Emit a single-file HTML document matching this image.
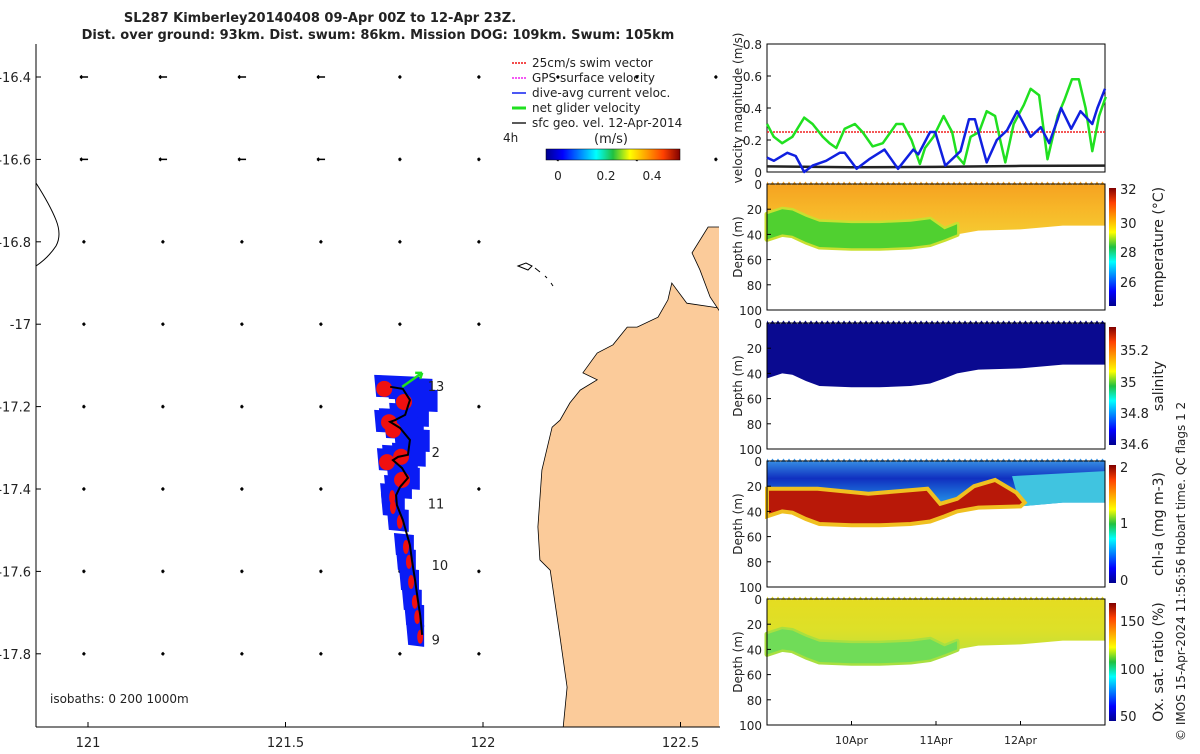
<!DOCTYPE html>
<html><head><meta charset="utf-8">
<style>
body{margin:0;background:#fff;font-family:"DejaVu Sans","Liberation Sans",sans-serif;}
svg text{font-family:"DejaVu Sans","Liberation Sans",sans-serif;fill:#222;}
</style></head>
<body>
<svg id="fig" width="1200" height="750" viewBox="0 0 1200 750" xmlns="http://www.w3.org/2000/svg">
<defs>
<linearGradient id="jetV" x1="0" y1="1" x2="0" y2="0">
<stop offset="0" stop-color="#00008f"/><stop offset="0.125" stop-color="#0000ff"/><stop offset="0.375" stop-color="#00ffff"/><stop offset="0.5" stop-color="#20c040"/><stop offset="0.625" stop-color="#ffff00"/><stop offset="0.875" stop-color="#ff4000"/><stop offset="1" stop-color="#800000"/></linearGradient>
<linearGradient id="jetH" x1="0" y1="0" x2="1" y2="0">
<stop offset="0" stop-color="#00008f"/><stop offset="0.125" stop-color="#0000ff"/><stop offset="0.375" stop-color="#00ffff"/><stop offset="0.5" stop-color="#20c040"/><stop offset="0.625" stop-color="#ffff00"/><stop offset="0.875" stop-color="#ff4000"/><stop offset="1" stop-color="#800000"/></linearGradient>
<linearGradient id="tempG" x1="0" y1="0" x2="0" y2="1">
<stop offset="0" stop-color="#f5a020"/><stop offset="0.4" stop-color="#f7b628"/><stop offset="0.75" stop-color="#f5c830"/><stop offset="1" stop-color="#e8d838"/></linearGradient>
<linearGradient id="oxyG" x1="0" y1="0" x2="0" y2="1">
<stop offset="0" stop-color="#e6dc20"/><stop offset="0.5" stop-color="#dde028"/><stop offset="1" stop-color="#b8e040"/></linearGradient>
<linearGradient id="chlG" x1="0" y1="0" x2="0" y2="1">
<stop offset="0" stop-color="#3a9ae8"/><stop offset="0.3" stop-color="#1030c0"/><stop offset="0.6" stop-color="#2080e0"/><stop offset="1" stop-color="#40c8e0"/></linearGradient>
</defs>
<g id="map"></g>
<g id="right"></g>
</svg>
<script>
const NS="http://www.w3.org/2000/svg";
function mk(parent,tag,attrs,txt){const e=document.createElementNS(NS,tag);for(const k in attrs)e.setAttribute(k,attrs[k]);if(txt!==undefined)e.textContent=txt;parent.appendChild(e);return e;}

// ---------- data ----------
const velDays=[0,0.08,0.18,0.3,0.44,0.54,0.66,0.74,0.82,0.92,1.04,1.13,1.25,1.37,1.53,1.61,1.71,1.81,1.87,1.97,2.09,2.19,2.25,2.33,2.41,2.51,2.60,2.70,2.76,2.82,2.92,3.04,3.12,3.22,3.32,3.44,3.52,3.61,3.69,3.77,3.85,3.93,4.01];
const velGreen=[0.3,0.22,0.18,0.22,0.34,0.3,0.22,0.18,0.15,0.27,0.3,0.25,0.16,0.18,0.3,0.3,0.2,0.05,0.15,0.22,0.35,0.25,0.1,0.05,0.22,0.25,0.38,0.35,0.2,0.06,0.3,0.42,0.52,0.48,0.08,0.35,0.45,0.58,0.58,0.4,0.13,0.35,0.47];
const blueDays=[0,0.08,0.24,0.34,0.44,0.54,0.70,0.86,0.92,1.06,1.21,1.39,1.55,1.73,1.79,1.93,1.99,2.11,2.29,2.39,2.46,2.60,2.72,2.84,2.96,3.12,3.24,3.34,3.44,3.48,3.60,3.71,3.85,3.91,4.0];
const velBlue=[0.09,0.07,0.12,0.1,0.0,0.04,0.07,0.12,0.12,0.02,0.08,0.14,0.02,0.14,0.11,0.25,0.25,0.04,0.13,0.33,0.33,0.06,0.2,0.26,0.38,0.22,0.28,0.18,0.33,0.4,0.27,0.38,0.3,0.4,0.52];
const geoDays=[0,1,2,3,4];
const velGeo=[0.035,0.03,0.032,0.038,0.04];
const swimRef=0.25;
const velTicks=[0,0.2,0.4,0.6,0.8];
const dateTicks=[1,2,3];
const dateLabels=["10Apr","11Apr","12Apr"];
const depthTicks=[0,20,40,60,80,100];
const profDays=[0,0.18,0.3,0.46,0.62,1.0,1.33,1.7,1.93,2.1,2.25,2.5,3.0,3.5,4.0];
const profDepth=[44,40,41,46,50,51,51,50,48,44,40,37,36,33,33];
const chlTopDays=[0,0.6,1.2,1.9,2.05,2.25,2.45,2.7,2.95,3.05];
const chlTopDepth=[22,22,26,22,34,30,20,15,25,33];
const lonTicks=[121,121.5,122,122.5];
const latTicks=[-16.4,-16.6,-16.8,-17,-17.2,-17.4,-17.6,-17.8];
const trackLon=[121.765,121.797,121.815,121.803,121.777,121.765,121.790,121.815,121.810,121.785,121.772,121.795,121.810,121.790,121.780,121.782,121.797,121.815,121.820,121.828,121.835,121.841,121.846];
const trackLat=[-17.152,-17.157,-17.184,-17.220,-17.233,-17.237,-17.252,-17.281,-17.317,-17.322,-17.330,-17.349,-17.373,-17.395,-17.415,-17.439,-17.475,-17.536,-17.572,-17.621,-17.669,-17.706,-17.754];
const curEast=[0.075,0.075,0.07,0.06,0.07,0.07,0.06,0.05,0.045,0.05,0.045,0.035,0.03,0.03,0.02,0.02,0.015,0.01,0.01,0.01,0.01,0.01,0.005];
const swimWest=[0.03,0,0.03,0,0.03,0,0.035,0,0.035,0,0.03,0,0.03,0,0.02,0.02,0.015,0.02,0.015,0.02,0.015,0.015,0.01];
const dayLabels=["13","2","11","10","9"];
const dayLabelLat=[-17.15,-17.31,-17.435,-17.585,-17.765];
const dayLabelLon=[121.86,121.87,121.86,121.87,121.87];
const gridLon=[120.99,121.19,121.39,121.59,121.79,121.99,122.19,122.39,122.59];
const gridLat=[-16.4,-16.6,-16.8,-17.0,-17.2,-17.4,-17.6,-17.8];
const coastLon=[122.600,122.516,122.478,122.468,122.443,122.390,122.365,122.329,122.289,122.253,122.289,122.246,122.220,122.195,122.175,122.149,122.139,122.144,122.170,122.195,122.213,122.203];
const coastLat=[-16.961,-16.949,-16.900,-16.941,-16.983,-17.007,-17.007,-17.050,-17.070,-17.118,-17.135,-17.160,-17.191,-17.233,-17.250,-17.354,-17.492,-17.572,-17.597,-17.759,-17.881,-17.978];
const penLon=[122.600,122.570,122.529,122.549,122.575,122.600];
const penLat=[-16.764,-16.764,-16.827,-16.868,-16.934,-16.970];

// ---------- map ----------
const map=document.getElementById('map');
const mx=lon=>88+(lon-121)*395;
const my=lat=>77+(-16.4-lat)*412;
const AX=36;
let land='';
coastLon.forEach((l,i)=>land+=(i?' L':'M')+mx(l).toFixed(1)+','+my(coastLat[i]).toFixed(1));
land+=' L720,727 Z';
const landEl=mk(map,'path',{d:land,fill:'#fbcb9a',stroke:'#000','stroke-width':0.8});


let pen='';
penLon.forEach((l,i)=>pen+=(i?' L':'M')+mx(l).toFixed(1)+','+my(penLat[i]).toFixed(1));
const penEl=mk(map,'path',{d:pen+' Z',fill:'#fbcb9a',stroke:'#000','stroke-width':0.8});


mk(map,'rect',{x:719,y:220,width:2,height:510,fill:'#fff'});
const isl=mk(map,'path',{d:'M518,266 L526,263 L532,266 L528,270 Z M535,268 L540,272 M545,276 L547,278 M551,283 L553,286',fill:'none',stroke:'#000','stroke-width':1});


const lc=mk(map,'path',{d:'M36,183 Q50,205 56,220 Q62,235 56,246 Q48,258 36,266',fill:'none',stroke:'#000','stroke-width':1});


mk(map,'line',{x1:AX,y1:44,x2:AX,y2:727,stroke:'#000','stroke-width':1});
mk(map,'line',{x1:AX,y1:727,x2:720,y2:727,stroke:'#000','stroke-width':1});
latTicks.forEach(t=>{const y=my(t);
 mk(map,'line',{x1:AX,y1:y,x2:AX+5,y2:y,stroke:'#000'});
 const tx=mk(map,'text',{x:31,y:y+5,'font-size':13,'text-anchor':'end'},(t===-17?'-17':t.toFixed(1)));
 
 });
lonTicks.forEach(t=>{const x=mx(t);
 mk(map,'line',{x1:x,y1:727,x2:x,y2:722,stroke:'#000'});
 const tx=mk(map,'text',{x:x,y:747,'font-size':13,'text-anchor':'middle'},String(t));
 
 });
gridLat.forEach(la=>gridLon.forEach(lo=>{
 const x=mx(lo),y=my(la);
 if(lo>122.15&&la<-16.7)return;
 const len=(lo<121.7&&la>-16.7)?4:1.5;
 const a=mk(map,'path',{d:`M${x-len},${y} L${x+len},${y} M${x-len},${y} l2,-1.5 M${x-len},${y} l2,1.5`,stroke:'#000','stroke-width':1.5});
 
 }));
trackLon.forEach((lo,i)=>{
 const x=mx(lo),y=my(trackLat[i]),w=curEast[i]*395;
 const q=mk(map,'path',{d:`M${x-16},${y-12} L${x+w},${y-10} L${x+w},${y+12} L${x-14},${y+10} Z`,fill:'#0a1cf5',stroke:'none'});
 
 });
trackLon.forEach((lo,i)=>{ if(!swimWest[i])return;
 const x=mx(lo),y=my(trackLat[i]),w=swimWest[i]*395;
 const e=mk(map,'ellipse',{cx:x-w/2,cy:y+2,rx:i<14?8:3,ry:i<14?8:7,fill:'#f01010'});
 
 });
let tp='';trackLon.forEach((lo,i)=>tp+=(i?' L':'M')+mx(lo)+','+my(trackLat[i]));
const tr=mk(map,'path',{d:tp,fill:'none',stroke:'#000','stroke-width':2});


const gx=mx(trackLon[0])+12,gy=my(trackLat[0]);
const gr=mk(map,'path',{d:`M${gx},${gy} L${gx+20},${gy-14} M${gx+20},${gy-14} l-7,0 M${gx+20},${gy-14} l-2,6`,stroke:'#20e020','stroke-width':2.5,fill:'none'});


dayLabels.forEach((d,i)=>{const t=mk(map,'text',{x:mx(dayLabelLon[i]),y:my(dayLabelLat[i])+5,'font-size':13},d);
 
 });
const t1=mk(map,'text',{x:320,y:22,'font-size':13,'font-weight':'bold','text-anchor':'middle'},'SL287 Kimberley20140408 09-Apr 00Z to 12-Apr 23Z.');


const t2=mk(map,'text',{x:378,y:39,'font-size':13,'font-weight':'bold','text-anchor':'middle'},'Dist. over ground: 93km. Dist. swum: 86km. Mission DOG: 109km. Swum: 105km');


const leg=[['#f01010','25cm/s swim vector'],['#f020f0','GPS surface velocity'],['#1020f0','dive-avg current veloc.'],['#20e020','net glider velocity'],['#222','sfc geo. vel. 12-Apr-2014']];
leg.forEach((l,i)=>{const y=62+i*15;
 const g=mk(map,'g',{});
 
 
 mk(g,'line',{x1:512,y1:y+1,x2:526,y2:y+1,stroke:l[0],'stroke-width':i===3?3:1.5,'stroke-dasharray':i<2?'2,1':''});
 mk(g,'text',{x:532,y:y+5,'font-size':12},l[1]);});
mk(map,'text',{x:503,y:142,'font-size':12},'4h');
mk(map,'text',{x:594,y:143,'font-size':13},'(m/s)');
const cb=mk(map,'rect',{x:546,y:149,width:134,height:11,fill:'url(#jetH)',stroke:'#000','stroke-width':0.5});


[[558,'0'],[606,'0.2'],[652,'0.4']].forEach(c=>mk(map,'text',{x:c[0],y:180,'font-size':12,'text-anchor':'middle'},c[1]));
const iso=mk(map,'text',{x:50,y:703,'font-size':12},'isobaths: 0   200  1000m');



// ---------- right panels ----------
const R=document.getElementById('right');
const X0=767,X1=1105;
const dx=d=>X0+d*84.5;
const vy=v=>172-v*160;
const vg=mk(R,'g',{});


mk(vg,'rect',{x:X0,y:44,width:X1-X0,height:128,fill:'#fff',stroke:'#000','stroke-width':1});
velTicks.forEach(t=>{mk(vg,'text',{x:762,y:vy(t)+5,'font-size':12,'text-anchor':'end'},t===0?'0':String(t));mk(vg,'line',{x1:X0,y1:vy(t),x2:X0+4,y2:vy(t),stroke:'#000'});});
const yl=mk(vg,'text',{transform:'translate(742,108) rotate(-90)','font-size':12,'text-anchor':'middle'},'velocity magnitude (m/s)');


const sr=mk(vg,'line',{x1:X0,y1:vy(swimRef),x2:X1,y2:vy(swimRef),stroke:'#f02020','stroke-width':1.5,'stroke-dasharray':'2,1'});


function line(g,xs,ys,col,w){let d='';xs.forEach((x,i)=>d+=(i?' L':'M')+dx(x).toFixed(1)+','+vy(ys[i]).toFixed(1));return mk(g,'path',{d:d,fill:'none',stroke:col,'stroke-width':w,'stroke-linejoin':'round'});}
const lgeo=line(vg,geoDays,velGeo,'#222',2.5);


const lgr=line(vg,velDays,velGreen,'#20e020',2.5);


const lbl=line(vg,blueDays,velBlue,'#1020e0',2.5);



const panels=[
 {top:184,name:'temperature-section',fill:'url(#tempG)',label:'temperature (°C)',ticks:[[189,'32'],[223,'30'],[252,'28'],[282,'26']]},
 {top:323,name:'salinity-section',fill:'#0a0a90',label:'salinity',ticks:[[350,'35.2'],[382,'35'],[413,'34.8'],[444,'34.6']]},
 {top:461,name:'chlorophyll-section',fill:'url(#chlG)',label:'chl-a (mg m-3)',ticks:[[467,'2'],[523,'1'],[580,'0']]},
 {top:599,name:'oxygen-section',fill:'url(#oxyG)',label:'Ox. sat. ratio (%)',ticks:[[621,'150'],[669,'100'],[716,'50']]}];
panels.forEach((P,pi)=>{
 const g=mk(R,'g',{});
 
 
 const dy=d=>P.top+d*1.26;
 let d='M'+X0+','+dy(2);
 for(let x=X0;x<=X1;x+=5.5)d+=` L${x},${dy(-2)} L${x+2.75},${dy(1)}`;
 for(let i=profDays.length-1;i>=0;i--)d+=` L${dx(profDays[i]).toFixed(1)},${dy(profDepth[i]).toFixed(1)}`;
 d+=' Z';
 mk(g,'path',{d:d,fill:P.fill});
 if(pi===0||pi===3){
  let gd='';const n=11;const off=pi===0?20:16;
  for(let i=0;i<n;i++)gd+=(i?' L':'M')+dx(profDays[i]).toFixed(1)+','+dy(Math.max(profDepth[i]-off*(i<9?1:0.4),20)).toFixed(1);
  for(let i=n-1;i>=0;i--)gd+=' L'+dx(profDays[i]).toFixed(1)+','+dy(profDepth[i]).toFixed(1);
  mk(g,'path',{d:gd+' Z',fill:pi===0?'#50d030':'#70dc58',stroke:pi===0?'#c8e030':'#a8e040','stroke-width':5,'stroke-linejoin':'round'});
  mk(g,'path',{d:gd+' Z',fill:pi===0?'#50d030':'#70dc58'});
 }
 if(pi===2){
  let cy='M'+dx(2.9)+','+dy(12);
  cy+=' L'+dx(4)+','+dy(8);
  for(let i=profDays.length-1;i>=0;i--){if(profDays[i]>=2.9)cy+=' L'+dx(profDays[i]).toFixed(1)+','+dy(profDepth[i]).toFixed(1);}
  mk(g,'path',{d:cy+' Z',fill:'#40c4e0'});
  let cd='';
  chlTopDays.forEach((t,i)=>cd+=(i?' L':'M')+dx(t).toFixed(1)+','+dy(chlTopDepth[i]).toFixed(1));
  for(let i=profDays.length-1;i>=0;i--){if(profDays[i]<=3.05)cd+=' L'+dx(profDays[i]).toFixed(1)+','+dy(profDepth[i]).toFixed(1);}
  mk(g,'path',{d:cd+' Z',fill:'#b81808',stroke:'#f0c020','stroke-width':4});
 }
 mk(g,'rect',{x:X0,y:P.top,width:X1-X0,height:126,fill:'none',stroke:'#000','stroke-width':1});
 depthTicks.forEach(t=>{mk(g,'text',{x:762,y:dy(t)+5,'font-size':12,'text-anchor':'end'},String(t));mk(g,'line',{x1:X0,y1:dy(t),x2:X0+4,y2:dy(t),stroke:'#000'});});
 mk(g,'text',{transform:`translate(742,${P.top+63}) rotate(-90)`,'font-size':12,'text-anchor':'middle'},'Depth (m)');
 const c=mk(g,'rect',{x:1109,y:P.top+4,width:7,height:118,fill:'url(#jetV)'});
 
 
 P.ticks.forEach(t=>mk(g,'text',{x:1120,y:t[0]+5,'font-size':13},t[1]));
 const cl=mk(g,'text',{transform:`translate(1163,${P.top+63}) rotate(-90)`,'font-size':14,'text-anchor':'middle'},P.label);
 
 
});
dateTicks.forEach((t,i)=>{const x=dx(t);mk(R,'line',{x1:x,y1:725,x2:x,y2:721,stroke:'#000'});
 const tx=mk(R,'text',{x:x,y:744,'font-size':11,'text-anchor':'middle'},dateLabels[i]);
 
 });
const cr=mk(R,'text',{transform:'translate(1185,741) rotate(-90)','font-size':12},'© IMOS 15-Apr-2024 11:56:56 Hobart time. QC flags 1  2');


</script>
</body></html>
